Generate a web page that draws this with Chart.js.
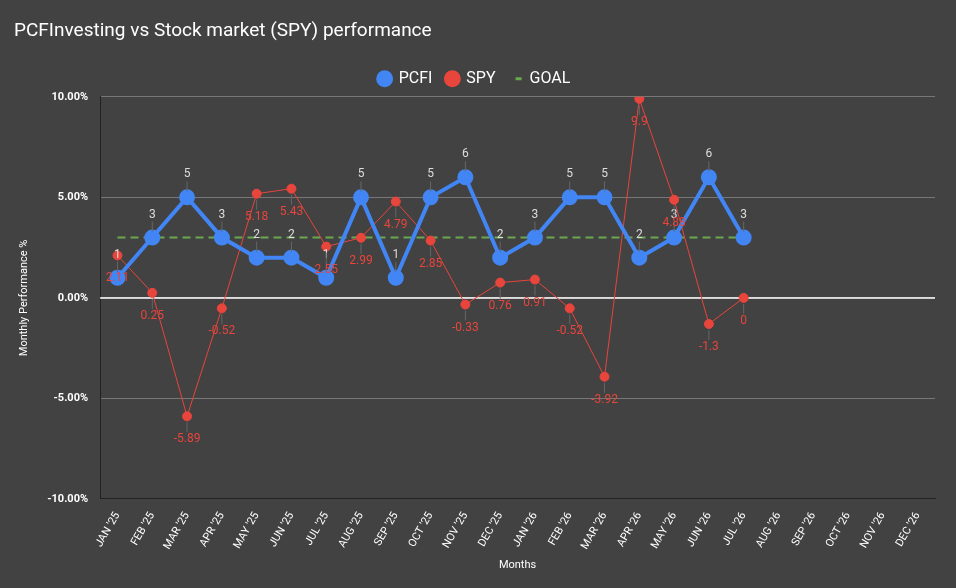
<!DOCTYPE html>
<html><head><meta charset="utf-8">
<script src="https://cdn.jsdelivr.net/npm/chart.js@4"></script>
<style>html,body{margin:0;background:#424242;overflow:hidden}#c{display:block}</style>
</head><body><canvas id="c" width="956" height="588" style="width:956px;height:588px"></canvas>
<script>
const months=["JAN '25","FEB '25","MAR '25","APR '25","MAY '25","JUN '25","JUL '25","AUG '25","SEP '25","OCT '25","NOV '25","DEC '25","JAN '26","FEB '26","MAR '26","APR '26","MAY '26","JUN '26","JUL '26","AUG '26","SEP '26","OCT '26","NOV '26","DEC '26"];
const pcfi=[1,3,5,3,2,2,1,5,1,5,6,2,3,5,5,2,3,6,3];
const spy=[2.11,0.25,-5.89,-0.52,5.18,5.43,2.55,2.99,4.79,2.85,-0.33,0.76,0.91,-0.52,-3.92,9.9,4.88,-1.3,0];
const goal=[3,3,3,3,3,3,3,3,3,3,3,3,3,3,3,3,3,3,3];
const labelPlugin={id:'lbl',afterDatasetsDraw(ch){
  const ctx=ch.ctx;ctx.save();ctx.font='12px Roboto';ctx.textAlign='center';
  [[0,-1,'#dddddd'],[1,1,'#e8453c']].forEach(([di,dir,col])=>{
    const meta=ch.getDatasetMeta(di);
    meta.data.forEach((p,i)=>{
      const v=ch.data.datasets[di].data[i];
      ctx.strokeStyle='#666';ctx.lineWidth=1;ctx.beginPath();
      ctx.moveTo(p.x,p.y+dir*6);ctx.lineTo(p.x,p.y+dir*16);ctx.stroke();
      ctx.fillStyle=col;ctx.textBaseline=dir<0?'bottom':'top';
      ctx.fillText(String(v),p.x,p.y+dir*17);
    });
  });
  ctx.restore();}};
const zeroPlugin={id:'zero',beforeDatasetsDraw(ch){const y=ch.scales.y.getPixelForValue(0),a=ch.chartArea,c=ch.ctx;c.save();c.strokeStyle='#fff';c.lineWidth=1.5;c.beginPath();c.moveTo(a.left,y);c.lineTo(a.right,y);c.stroke();c.restore();}};
new Chart(document.getElementById('c'),{type:'line',
 data:{labels:months,datasets:[
  {label:'PCFI',data:pcfi,borderColor:'#4285f4',backgroundColor:'#4285f4',borderWidth:4,pointRadius:6,pointStyle:'circle',tension:0},
  {label:'SPY',data:spy,borderColor:'#e8453c',backgroundColor:'#e8453c',borderWidth:1,pointRadius:4.5,tension:0},
  {label:'GOAL',data:goal,borderColor:'#6aa84f',backgroundColor:'#6aa84f',borderWidth:2,borderDash:[8,5],pointRadius:0,tension:0}]},
 options:{responsive:false,maintainAspectRatio:false,animation:false,devicePixelRatio:1,
  layout:{padding:{left:14,right:21,top:0,bottom:12}},
  plugins:{title:{display:true,text:'PCFInvesting vs Stock market (SPY) performance',align:'start',color:'#ffffff',font:{family:'Roboto',size:19,weight:'normal'},padding:{top:20,bottom:14}},
   legend:{labels:{color:'#fff',font:{family:'Roboto',size:16},usePointStyle:true,boxWidth:12,boxHeight:12,padding:14,generateLabels(ch){return ch.data.datasets.map((d,i)=>({text:d.label,fillStyle:d.borderColor,strokeStyle:d.borderColor,lineWidth:i==2?3:0,pointStyle:i==2?'dash':'circle',lineDash:i==2?[6,4]:[],fontColor:'#fff',datasetIndex:i}));}}},
   tooltip:{enabled:false}},
  scales:{x:{offset:true,grid:{display:false},border:{color:'#222'},ticks:{color:'#fff',font:{family:'Roboto',size:11},maxRotation:60,minRotation:60,autoSkip:false},title:{display:true,text:'Months',color:'#fff',font:{family:'Roboto',size:11}}},
   y:{min:-10,max:10,grid:{color:'#777',drawTicks:false},border:{color:'#222'},ticks:{stepSize:5,padding:12,color:'#fff',font:{family:'Roboto',size:11,weight:'bold'},callback:v=>v.toFixed(2)+'%'},title:{display:true,text:'Monthly Performance %',color:'#fff',font:{family:'Roboto',size:11}}}}},
 plugins:[labelPlugin,zeroPlugin]});
</script>
</body></html>
